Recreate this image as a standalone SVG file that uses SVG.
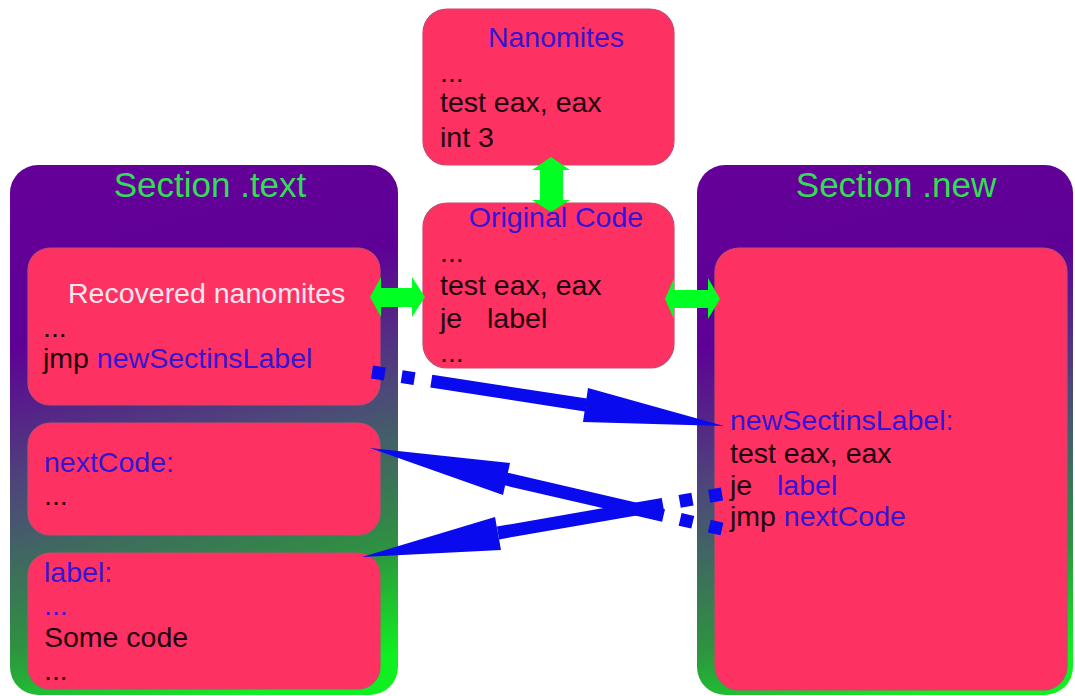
<svg xmlns="http://www.w3.org/2000/svg" width="1075" height="696" viewBox="0 0 1075 696">
<defs>
<linearGradient id="sec" x1="0.42" y1="0" x2="0.62" y2="1">
<stop offset="0" stop-color="#640098"/>
<stop offset="0.25" stop-color="#5e0096"/>
<stop offset="0.52" stop-color="#4c4a78"/>
<stop offset="0.8" stop-color="#2e9240"/>
<stop offset="1" stop-color="#10f020"/>
</linearGradient>
<style>
.sec{fill:url(#sec);}
.box{fill:#fe3262;stroke:#c8486e;stroke-width:1.2;}
.t{font-family:"Liberation Sans",Arial,sans-serif;font-size:28.5px;fill:#200010;}
.b{fill:#3614d6;}
.title{font-family:"Liberation Sans",Arial,sans-serif;font-size:35px;fill:#33dd55;text-anchor:middle;}
.g{fill:#00ff22;}
.shaft{fill:none;stroke:#0a0aee;stroke-width:13;stroke-linecap:butt;}
.head{fill:#0a0aee;}
</style>
</defs>

<g id="section-text">
<rect class="sec" x="10" y="165" width="388" height="530" rx="28"/>
<text class="title" x="210" y="197">Section .text</text>
</g>

<g id="section-new">
<rect class="sec" x="697" y="165" width="376" height="530" rx="28"/>
<text class="title" x="896" y="197">Section .new</text>
</g>

<g id="recovered">
<rect class="box" x="28" y="248" width="352" height="157" rx="22"/>
<text class="t" x="68" y="303" style="fill:#f6e6ee">Recovered nanomites</text>
<text class="t" x="43" y="337">...</text>
<text class="t" x="43" y="368">jmp <tspan class="b">newSectinsLabel</tspan></text>
</g>

<g id="nextcode">
<rect class="box" x="28" y="423" width="352" height="112" rx="22"/>
<text class="t b" x="44" y="472">nextCode:</text>
<text class="t" x="44" y="505">...</text>
</g>

<g id="label">
<rect class="box" x="28" y="553" width="352" height="136" rx="22"/>
<text class="t b" x="44" y="582">label:</text>
<text class="t b" x="44" y="615">...</text>
<text class="t" x="44" y="647">Some code</text>
<text class="t" x="44" y="680">...</text>
</g>

<g id="nanomites">
<rect class="box" x="423" y="9" width="251" height="156" rx="24"/>
<text class="t b" x="556" y="47" text-anchor="middle">Nanomites</text>
<text class="t" x="440" y="82">...</text>
<text class="t" x="440" y="112">test eax, eax</text>
<text class="t" x="440" y="147">int 3</text>
</g>

<g id="original">
<rect class="box" x="423" y="203" width="251" height="165" rx="24"/>
<text class="t b" x="556" y="227" text-anchor="middle">Original Code</text>
<text class="t" x="440" y="262">...</text>
<text class="t" x="440" y="295">test eax, eax</text>
<text class="t" x="440" y="328">je<tspan x="487">label</tspan></text>
<text class="t" x="440" y="362">...</text>
</g>

<g id="new-code">
<rect class="box" x="715" y="248" width="352" height="442" rx="24"/>
<text class="t b" x="730" y="430">newSectinsLabel:</text>
<text class="t" x="730" y="463">test eax, eax</text>
<text class="t" x="730" y="495">je<tspan x="777" class="b">label</tspan></text>
<text class="t" x="730" y="526">jmp <tspan class="b">nextCode</tspan></text>
</g>

<g id="connectors">
<polygon class="g" points="370,297 381,277 381,288 412,288 412,277 425,297 412,317 412,307 381,307 381,317"/>
<polygon class="g" points="665,299 674,278 674,290 708,290 708,278 720,299 708,319 708,308 674,308 674,319"/>
<polygon class="g" points="551,157 570,170 563,170 563,200 570,200 551,212 532,200 540,200 540,170 532,170"/>
<path class="shaft" d="M372,372 L586,405" stroke-dasharray="13 17 13 17 400"/>
<polygon class="head" points="583,422 588,388 724,426"/>
<path class="shaft" d="M722,529 L506,479" stroke-dasharray="13 17 13 17 400"/>
<polygon class="head" points="510,463 503,495 370,448"/>
<path class="shaft" d="M722,494 L498,533" stroke-dasharray="13 17 13 17 400"/>
<polygon class="head" points="501,550 495,517 362,557"/>
</g>
</svg>
